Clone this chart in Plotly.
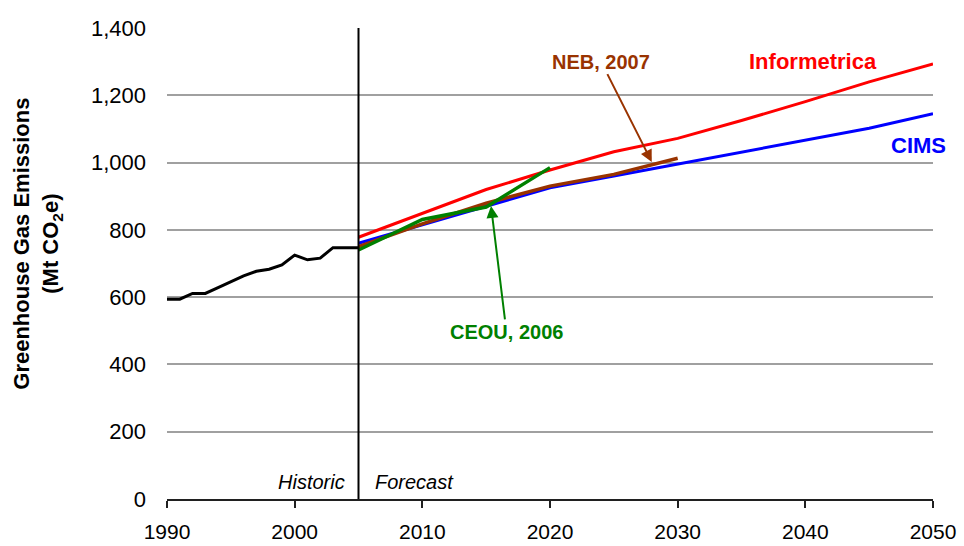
import plotly.graph_objects as go

# ---------------- data ----------------
hist_years = [1990, 1991, 1992, 1993, 1994, 1995, 1996, 1997, 1998, 1999,
              2000, 2001, 2002, 2003, 2004, 2005]
hist_values = [594, 594, 611, 611, 628, 646, 663, 677, 683, 696,
               725, 711, 716, 747, 747, 747]

inf_years = [2005, 2010, 2015, 2020, 2025, 2030, 2035, 2040, 2045, 2050]
inf_values = [778, 850, 920, 978, 1032, 1072, 1125, 1181, 1240, 1293]

cims_years = [2005, 2010, 2015, 2020, 2025, 2030, 2035, 2040, 2045, 2050]
cims_values = [760, 815, 870, 925, 960, 995, 1030, 1065, 1102, 1145]

neb_years = [2005, 2010, 2015, 2020, 2025, 2030]
neb_values = [750, 818, 879, 930, 965, 1013]

ceou_years = [2005, 2010, 2015, 2020]
ceou_values = [740, 831, 868, 985]

forecast_start = 2005
x_ticks = [1990, 2000, 2010, 2020, 2030, 2040, 2050]
y_ticks = [0, 200, 400, 600, 800, 1000, 1200, 1400]
y_title = "<b>Greenhouse Gas Emissions<br>(Mt CO<sub>2</sub>e)</b>"

RED = "#FF0000"
BLUE = "#0000FF"
BROWN = "#993300"
GREEN = "#008000"
FONT = "Liberation Sans, Arial, sans-serif"

fig = go.Figure()

fig.add_trace(go.Scatter(x=hist_years, y=hist_values, mode="lines",
                         line=dict(color="black", width=3), name="Historic"))
fig.add_trace(go.Scatter(x=inf_years, y=inf_values, mode="lines",
                         line=dict(color=RED, width=3), name="Informetrica"))
fig.add_trace(go.Scatter(x=cims_years, y=cims_values, mode="lines",
                         line=dict(color=BLUE, width=3), name="CIMS"))
fig.add_trace(go.Scatter(x=neb_years, y=neb_values, mode="lines",
                         line=dict(color=BROWN, width=3.5), name="NEB, 2007"))
fig.add_trace(go.Scatter(x=ceou_years, y=ceou_values, mode="lines",
                         line=dict(color=GREEN, width=3.5), name="CEOU, 2006"))

# divider between historic and forecast
fig.add_shape(type="line", xref="x", yref="y",
              x0=forecast_start, x1=forecast_start, y0=y_ticks[0], y1=y_ticks[-1],
              line=dict(color="black", width=2))

annotations = [
    dict(x=2040.6, y=1300, text="<b>Informetrica</b>", showarrow=False,
         font=dict(color=RED, size=22, family=FONT)),
    dict(x=2048.9, y=1052, text="<b>CIMS</b>", showarrow=False,
         font=dict(color=BLUE, size=22, family=FONT)),
    dict(x=2027.97, y=1002, ax=2024.0, ay=1300, axref="x", ayref="y",
         text="<b>NEB, 2007</b>", showarrow=True, arrowhead=2, arrowsize=1.2,
         arrowwidth=2, arrowcolor=BROWN, standoff=0,
         font=dict(color=BROWN, size=20, family=FONT)),
    dict(x=2015.38, y=871, ax=2016.59, ay=497, axref="x", ayref="y",
         text="<b>CEOU, 2006</b>", showarrow=True, arrowhead=2, arrowsize=1.2,
         arrowwidth=2, arrowcolor=GREEN, standoff=0,
         font=dict(color=GREEN, size=20, family=FONT)),
    dict(x=2004.1, y=51, text="<i>Historic</i>", showarrow=False, xanchor="right",
         font=dict(color="black", size=20, family=FONT)),
    dict(x=2006.1, y=51, text="<i>Forecast</i>", showarrow=False, xanchor="left",
         font=dict(color="black", size=20, family=FONT)),
    # y-axis title
    dict(xref="paper", yref="paper", x=-0.169, y=0.541, text=y_title,
         textangle=-90, showarrow=False, xanchor="center", yanchor="middle",
         font=dict(color="black", size=22, family=FONT)),
]

fig.update_layout(
    width=964, height=546,
    margin=dict(l=167, r=31, t=28, b=47),
    paper_bgcolor="white", plot_bgcolor="white",
    showlegend=False,
    font=dict(family=FONT, size=20, color="black"),
    annotations=annotations,
    xaxis=dict(range=[x_ticks[0], x_ticks[-1]], tickvals=x_ticks,
               showgrid=False, zeroline=False, automargin=False,
               showline=True, linecolor="#202020", linewidth=1.5,
               ticks="outside", ticklen=7, tickwidth=1.5, tickcolor="#202020",
               ticklabelstandoff=6,
               tickfont=dict(size=21, family=FONT, color="black")),
    yaxis=dict(range=[y_ticks[0], y_ticks[-1]], tickvals=y_ticks,
               tickformat=",", showgrid=True, gridcolor="#A0A0A0", gridwidth=2,
               zeroline=False, showline=False, ticks="", automargin=False,
               ticklabelstandoff=20,
               tickfont=dict(size=22, family=FONT, color="black")),
)

fig.write_html(
    "out.html",
    config={"displayModeBar": False},
    post_script="document.body.style.margin='0';document.body.style.overflow='hidden';",
)
